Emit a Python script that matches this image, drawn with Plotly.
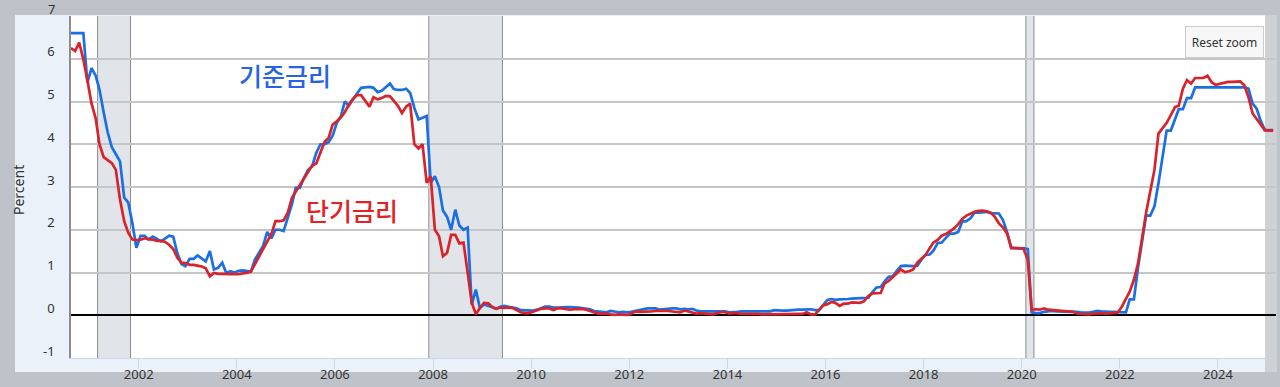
import pandas as pd
import plotly.graph_objects as go

# ---------------- data (monthly, Aug 2000 .. Feb 2025) ----------------
n_months = 295
dates = pd.date_range("2000-08-01", periods=n_months, freq="MS") + pd.Timedelta(days=14)

policy_rate = [  # 기준금리 (blue)
    6.6, 6.6, 6.6, 6.6, 5.44,
    5.78, 5.6, 5.28, 4.75, 4.28, 3.93, 3.77, 3.6, 2.75, 2.64, 2.15, 1.58,
    1.86, 1.86, 1.77, 1.84, 1.79, 1.73, 1.79, 1.86, 1.84, 1.46, 1.2, 1.15,
    1.32, 1.32, 1.4, 1.33, 1.26, 1.5, 1.07, 1.11, 1.23, 0.99, 1.03, 1.0,
    1.04, 1.05, 1.04, 1.02, 1.3, 1.45, 1.62, 1.95, 1.8, 2.0, 2.0, 1.97,
    2.3, 2.6, 2.98, 2.98, 3.21, 3.4, 3.48, 3.8, 4.0, 4.0, 4.05, 4.2,
    4.5, 4.66, 5.0, 4.9, 5.05, 5.2, 5.32, 5.33, 5.34, 5.32, 5.22, 5.25,
    5.34, 5.42, 5.29, 5.27, 5.27, 5.3, 5.2, 4.85, 4.58, 4.62, 4.66, 3.1,
    3.25, 3.0, 2.45, 2.3, 2.0, 2.47, 2.1, 2.0, 2.05, 0.25, 0.6, 0.17,
    0.25, 0.22, 0.18, 0.15, 0.2, 0.22, 0.2, 0.18, 0.16, 0.12, 0.12, 0.12,
    0.11, 0.13, 0.16, 0.2, 0.2, 0.18, 0.18, 0.19, 0.19, 0.19, 0.19, 0.18,
    0.17, 0.16, 0.14, 0.1, 0.09, 0.09, 0.07, 0.1, 0.08, 0.07, 0.08, 0.07,
    0.08, 0.1, 0.13, 0.14, 0.16, 0.16, 0.16, 0.13, 0.14, 0.16, 0.16, 0.16,
    0.14, 0.15, 0.14, 0.15, 0.11, 0.09, 0.09, 0.08, 0.08, 0.09, 0.08, 0.09,
    0.07, 0.07, 0.08, 0.09, 0.09, 0.1, 0.09, 0.09, 0.09, 0.09, 0.09, 0.12,
    0.11, 0.11, 0.11, 0.12, 0.12, 0.13, 0.13, 0.14, 0.14, 0.12, 0.12, 0.24,
    0.36, 0.38, 0.36, 0.37, 0.37, 0.38, 0.39, 0.4, 0.4, 0.4, 0.41, 0.54,
    0.65, 0.66, 0.79, 0.9, 0.91, 1.04, 1.15, 1.16, 1.15, 1.15, 1.16, 1.3,
    1.41, 1.42, 1.51, 1.69, 1.7, 1.82, 1.91, 1.91, 1.95, 2.19, 2.2, 2.27,
    2.4, 2.4, 2.41, 2.42, 2.39, 2.38, 2.38, 2.22, 1.93, 1.58, 1.57, 1.56,
    1.57, 1.55, 0.07, 0.05, 0.05, 0.08, 0.09, 0.1, 0.09, 0.09, 0.09, 0.09,
    0.09, 0.08, 0.07, 0.07, 0.06, 0.08, 0.1, 0.09, 0.08, 0.08, 0.08, 0.08,
    0.08, 0.07, 0.37, 0.37, 1.1, 1.77, 2.33, 2.33, 2.55, 3.09, 3.72, 4.32,
    4.32, 4.6, 4.82, 4.82, 5.08, 5.08, 5.33, 5.33, 5.33, 5.33, 5.33, 5.33,
    5.33, 5.33, 5.33, 5.33, 5.33, 5.33, 5.33, 5.3, 4.95, 4.83, 4.54, 4.33,
    4.33, 4.33,
]

short_rate = [  # 단기금리 (red)
    6.25, 6.18, 6.38, 5.98, 5.5,
    4.95, 4.6, 4.0, 3.7, 3.64, 3.56, 3.4, 2.7, 2.2, 1.93, 1.77, 1.76,
    1.77, 1.8, 1.78, 1.77, 1.74, 1.74, 1.72, 1.65, 1.55, 1.35, 1.23, 1.22,
    1.18, 1.18, 1.16, 1.14, 1.1, 0.91, 0.99, 0.97, 0.97, 0.96, 0.96, 0.96,
    0.96, 0.98, 0.99, 1.02, 1.18, 1.37, 1.55, 1.72, 1.9, 2.2, 2.2, 2.22,
    2.4, 2.75, 2.9, 3.05, 3.2, 3.35, 3.5, 3.55, 3.8, 4.05, 4.15, 4.46,
    4.54, 4.63, 4.75, 4.93, 5.06, 5.15, 5.15, 5.0, 4.88, 5.1, 5.05, 5.08,
    5.13, 5.12, 5.02, 4.9, 4.73, 4.88, 4.95, 4.0, 3.9, 4.0, 3.1, 3.25,
    2.0, 1.85, 1.38, 1.46, 1.88, 1.88, 1.68, 1.7, 1.0, 0.3, 0.02, 0.17,
    0.29, 0.28, 0.2, 0.15, 0.18, 0.17, 0.18, 0.17, 0.12, 0.07, 0.05, 0.05,
    0.08, 0.11, 0.15, 0.16, 0.16, 0.12, 0.16, 0.16, 0.15, 0.13, 0.14, 0.14,
    0.15, 0.13, 0.1, 0.06, 0.04, 0.04, 0.04, 0.02, 0.01, 0.02, 0.01, 0.01,
    0.03, 0.09, 0.08, 0.08, 0.09, 0.09, 0.1, 0.11, 0.11, 0.1, 0.09, 0.07,
    0.07, 0.11, 0.09, 0.06, 0.04, 0.05, 0.04, 0.04, 0.02, 0.05, 0.07, 0.07,
    0.04, 0.05, 0.05, 0.03, 0.03, 0.04, 0.03, 0.03, 0.02, 0.02, 0.02, 0.03,
    0.03, 0.02, 0.03, 0.02, 0.02, 0.02, 0.03, 0.07, 0.02, 0.02, 0.13, 0.23,
    0.26, 0.31, 0.29, 0.22, 0.27, 0.27, 0.3, 0.3, 0.29, 0.33, 0.45, 0.51,
    0.51, 0.52, 0.74, 0.8, 0.89, 0.98, 1.07, 1.01, 1.03, 1.07, 1.23, 1.32,
    1.41, 1.57, 1.7, 1.76, 1.86, 1.9, 1.96, 2.03, 2.13, 2.25, 2.33, 2.37,
    2.42, 2.44, 2.45, 2.43, 2.4, 2.3, 2.15, 2.05, 1.9, 1.57, 1.57, 1.57,
    1.55, 1.3, 0.13, 0.14, 0.13, 0.16, 0.13, 0.12, 0.11, 0.11, 0.1, 0.09,
    0.08, 0.04, 0.03, 0.02, 0.02, 0.04, 0.05, 0.05, 0.04, 0.05, 0.05, 0.06,
    0.2, 0.4, 0.55, 0.83, 1.2, 1.8, 2.4, 2.9, 3.4, 4.25, 4.38, 4.5,
    4.68, 4.87, 4.9, 5.3, 5.5, 5.42, 5.55, 5.55, 5.55, 5.6, 5.45, 5.39,
    5.42, 5.44, 5.46, 5.46, 5.46, 5.47, 5.38, 5.1, 4.72, 4.6, 4.45, 4.33,
    4.32, 4.32,
]

recession_start = ["2001-03-01", "2007-12-01", "2020-02-01"]
recession_end = ["2001-11-01", "2009-06-01", "2020-04-01"]

y_ticks = [-1, 0, 1, 2, 3, 4, 5, 6]
y_tick_text = ["-1", "0", "1", "2", "3", "4", "5", "6"]
y_top_label = "7"
x_range = ["2000-08-15", "2025-03-08"]

label_policy = "기준금리"
label_short = "단기금리"

# ---------------- layout geometry (pixels) ----------------
W, H = 1280, 387
ML, MR, MT, MB = 71, 4, 16, 29
PW, PH = W - ML - MR, H - MT - MB


def px_x(x):
    return (x - ML) / PW


def px_y(y):
    return (H - MB - y) / PH


BLUE = "#1b6fe4"
RED = "#d8232a"

fig = go.Figure()
fig.add_trace(go.Scatter(x=dates, y=policy_rate, mode="lines",
                         line=dict(color=BLUE, width=2.7), hoverinfo="skip"))
fig.add_trace(go.Scatter(x=dates, y=short_rate, mode="lines",
                         line=dict(color=RED, width=2.7), hoverinfo="skip"))

shapes = [
    dict(type="rect", xref="paper", yref="paper", layer="below",
         x0=px_x(15), x1=px_x(1277), y0=px_y(372), y1=px_y(15),
         fillcolor="#eaf1f9", line=dict(width=0)),
    dict(type="rect", xref="paper", yref="paper", layer="below",
         x0=0, x1=1, y0=0, y1=1, fillcolor="white", line=dict(width=0)),
    dict(type="rect", xref="paper", yref="paper", layer="below",
         x0=px_x(1265), x1=px_x(1277), y0=px_y(372), y1=px_y(15),
         fillcolor="#cfd2d5", line=dict(width=0)),
]
for s, e in zip(recession_start, recession_end):
    shapes.append(dict(type="rect", xref="x", yref="paper", layer="below",
                       x0=s, x1=e, y0=0, y1=1, fillcolor="#e1e5ea", line=dict(width=0)))
    for d in (s, e):
        shapes.append(dict(type="line", xref="x", yref="paper", layer="below",
                           x0=d, x1=d, y0=0, y1=1, line=dict(color="#8c8c8c", width=1)))

annotations = [
    dict(text=label_policy, xref="paper", yref="paper", x=px_x(285), y=px_y(75),
         xanchor="center", yanchor="middle", showarrow=False,
         font=dict(family="Noto Sans CJK KR", size=25, color="#2563e6", weight=500)),
    dict(text=label_short, xref="paper", yref="paper", x=px_x(352), y=px_y(210),
         xanchor="center", yanchor="middle", showarrow=False,
         font=dict(family="Noto Sans CJK KR", size=25, color="#e52222", weight=500)),
    dict(text="Percent", xref="paper", yref="paper", x=px_x(18), y=px_y(190),
         xanchor="center", yanchor="middle", textangle=-90, showarrow=False,
         font=dict(family="Noto Sans", size=14, color="#333333")),
    dict(text=y_top_label, xref="paper", yref="y", x=px_x(57), y=7,
         xanchor="right", yanchor="middle", yshift=7, showarrow=False,
         font=dict(family="Noto Sans", size=13, color="#333333")),
    dict(text="Reset zoom", xref="paper", yref="paper", x=px_x(1224), y=px_y(42),
         xanchor="center", yanchor="middle", showarrow=False,
         width=71, height=24, borderpad=3, borderwidth=1,
         bgcolor="#f7f7f7", bordercolor="#cccccc",
         font=dict(family="Noto Sans", size=12, color="#333333")),
]

fig.update_layout(
    width=W, height=H,
    margin=dict(l=ML, r=MR, t=MT, b=MB, pad=0),
    paper_bgcolor="#bdc3c9",
    plot_bgcolor="rgba(0,0,0,0)",
    showlegend=False,
    shapes=shapes,
    annotations=annotations,
    font=dict(family="Noto Sans", size=13, color="#333333"),
)
fig.update_xaxes(
    type="date", range=x_range, showgrid=False, zeroline=False,
    tick0="2002-01-01", dtick="M24", tickformat="%Y",
    ticks="outside", ticklen=10, tickwidth=1, tickcolor="#ccd6eb",
    showline=True, linecolor="#ccd6eb", linewidth=1,
    tickfont=dict(family="Noto Sans", size=13, color="#333333"),
    ticklabelstandoff=-6, fixedrange=True,
)
fig.update_yaxes(
    range=[-1, 7], tickvals=y_ticks + [7], ticktext=y_tick_text + [""],
    showgrid=True, gridcolor="#c6c6c6", gridwidth=1.5,
    zeroline=True, zerolinecolor="#000000", zerolinewidth=2,
    showline=True, linecolor="#8c8c8c", linewidth=1.5, ticks="",
    tickfont=dict(family="Noto Sans", size=13, color="#333333"),
    ticklabelstandoff=12, ticklabelshift=-7, fixedrange=True,
)

fig.write_html("out.html", config={"displayModeBar": False})
